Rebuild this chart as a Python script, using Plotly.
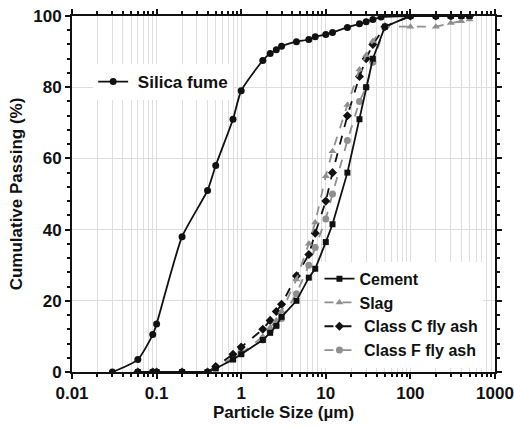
import plotly.graph_objects as go

# Particle size distributions (cumulative % passing vs size in µm)
silica_size = [0.03, 0.06, 0.09, 0.1, 0.2, 0.4, 0.5, 0.8, 1, 1.8, 2.2, 2.6, 3, 4.5,
               6.3, 7.5, 10, 12, 18, 25, 30, 36, 45, 100, 200, 300, 400, 500]
silica_pass = [0, 3.5, 10.5, 13.5, 38, 51, 58, 71, 79, 87.5, 89.5, 90.5, 91.5, 92.8,
               93.4, 94.2, 94.8, 95.4, 96.8, 97.8, 98.4, 99, 99.7, 100, 100, 100, 100, 100]

sizes = [0.06, 0.09, 0.1, 0.2, 0.4, 0.5, 0.8, 1, 1.8, 2.2, 2.6, 3, 4.5, 6.3, 7.5,
         10, 12, 18, 25, 30, 36, 50, 100, 200, 300, 400, 500]
cement_pass = [0, 0, 0, 0, 0, 1, 3.5, 5, 9, 11, 13, 15.5, 20, 26.5, 29,
               36.5, 41.5, 56, 71, 80, 88, 97, 100, 100, 100, 100, 100]
slag_pass = [0, 0, 0, 0, 0, 1, 3.5, 5, 10, 12.5, 14.5, 17, 26, 36, 42,
             55, 62, 75, 85, 89, 93, 97, 97, 97, 98, 98.5, 99]
class_c_pass = [0, 0, 0, 0, 0, 1.5, 5, 7, 12, 14.5, 17, 19, 27, 33, 39,
                48, 56, 72, 83, 88, 92, 97, 100, 100, 100, 100, 100]
class_f_pass = [0, 0, 0, 0, 0, 1.5, 4, 5.5, 9, 11.5, 13, 15, 22, 30, 35,
                43, 50, 65, 76, 80, 87, 97, 100, 100, 100, 100, 100]

x_ticks = [0.01, 0.1, 1, 10, 100, 1000]
x_tick_text = ["0.01", "0.1", "1", "10", "100", "1000"]

GRAY = "#8f8f8f"
BLACK = "#111111"
GRID = "#dedede"
FONT = dict(family="Liberation Sans, Arial, sans-serif", size=16, color=BLACK, weight="bold")

fig = go.Figure()

fig.add_trace(go.Scatter(
    x=silica_size, y=silica_pass, name=" Silica fume", legend="legend",
    mode="lines+markers", line=dict(color=BLACK, width=1.8, shape="spline", smoothing=0.6),
    marker=dict(symbol="circle", size=7, color=BLACK)))

series = [
    ("Class F fly ash", class_f_pass, GRAY, "dash", "circle", 7),
    ("Class C fly ash", class_c_pass, BLACK, "dash", "diamond", 7),
    ("Slag", slag_pass, GRAY, "dash", "triangle-up", 7),
    ("Cement", cement_pass, BLACK, "solid", "square", 6),
]
labels = {"Cement": "Cement", "Slag": "Slag",
          "Class C fly ash": " Class C fly ash", "Class F fly ash": " Class F fly ash"}
order = {"Cement": 1, "Slag": 2, "Class C fly ash": 3, "Class F fly ash": 4}
for name, vals, color, dash, sym, size in series:
    fig.add_trace(go.Scatter(
        x=sizes, y=vals, name=labels[name], legend="legend2", legendrank=order[name],
        mode="lines+markers", line=dict(color=color, width=1.8, dash=dash),
        marker=dict(symbol=sym, size=size, color=color)))

minor_x = [m * 10 ** e for e in range(-2, 3) for m in range(2, 10)]

axis_common = dict(showline=True, linecolor=BLACK, linewidth=2, zeroline=False, automargin=False)

fig.update_layout(
    width=514, height=427,
    margin=dict(l=72, r=19, t=16, b=55),
    paper_bgcolor="white", plot_bgcolor="white",
    font=FONT,
    showlegend=True,
    xaxis=dict(
        type="log", range=[-2, 3], tickmode="array", tickvals=x_ticks, ticktext=x_tick_text,
        ticks="outside", ticklen=5, tickwidth=2, tickcolor=BLACK, mirror="allticks",
        showgrid=True, gridcolor=GRID, gridwidth=1,
        minor=dict(tickmode="array", tickvals=minor_x, ticks="outside", ticklen=3,
                   tickwidth=1.5, tickcolor=BLACK, showgrid=True, gridcolor=GRID, gridwidth=1),
        title=dict(text="Particle Size (µm)", font=dict(size=17), standoff=4),
        tickfont=dict(size=17), **axis_common),
    yaxis=dict(
        range=[0, 100], dtick=20, ticks="outside", ticklen=5, tickwidth=2, tickcolor=BLACK,
        mirror="allticks", showgrid=True, gridcolor=GRID, gridwidth=1,
        minor=dict(dtick=4, ticks="outside", ticklen=3, tickwidth=1.5, tickcolor=BLACK, showgrid=False),
        title=dict(text="Cumulative Passing (%)", font=dict(size=17), standoff=6),
        tickfont=dict(size=17), **axis_common),
    # overlay axes give the inner half of the crossing tick marks
    xaxis2=dict(
        type="log", range=[-2, 3], overlaying="x", anchor="y", tickmode="array", tickvals=x_ticks,
        showticklabels=False, ticks="inside", ticklen=3, tickwidth=2, tickcolor=BLACK,
        mirror="allticks", showgrid=False,
        minor=dict(tickmode="array", tickvals=minor_x, ticks="inside", ticklen=3,
                   tickwidth=1.5, tickcolor=BLACK, showgrid=False),
        **axis_common),
    yaxis2=dict(
        range=[0, 100], dtick=20, overlaying="y", anchor="x", showticklabels=False,
        ticks="inside", ticklen=3, tickwidth=2, tickcolor=BLACK, mirror="allticks", showgrid=False,
        minor=dict(dtick=4, ticks="inside", ticklen=3, tickwidth=1.5, tickcolor=BLACK),
        **axis_common),
    legend=dict(x=0.05, y=0.865, xanchor="left", yanchor="top", bgcolor="white",
                font=dict(size=17), borderwidth=0),
    legend2=dict(x=0.585, y=0.012, xanchor="left", yanchor="bottom", bgcolor="white",
                 font=dict(size=16), borderwidth=0, traceorder="normal", tracegroupgap=0),
)

fig.write_html("out.html")
